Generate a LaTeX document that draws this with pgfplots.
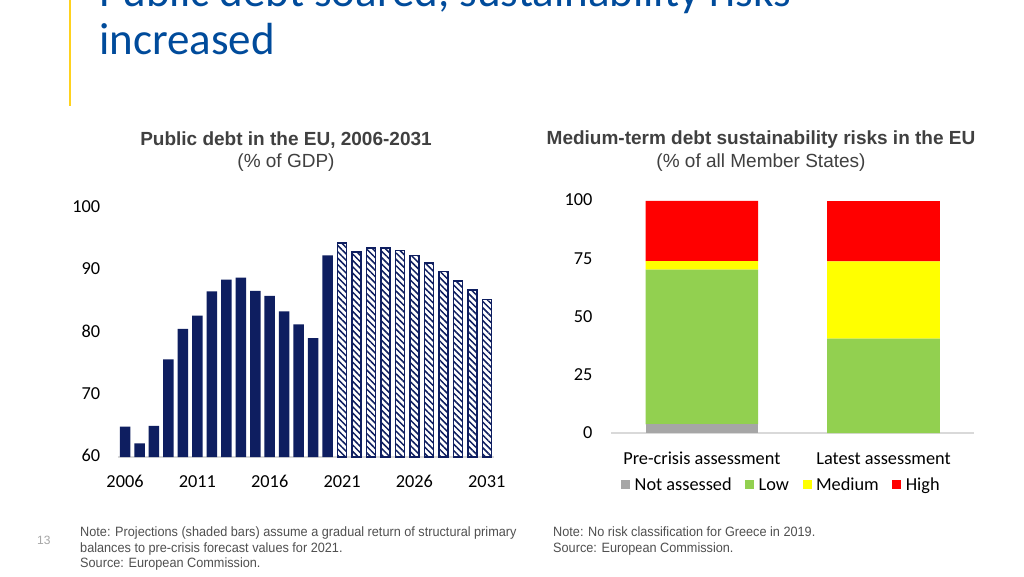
\documentclass[border=0pt]{standalone}
\usepackage{pgfplots}
\pgfplotsset{compat=1.18}
\usetikzlibrary{patterns.meta}
\usepackage{fontspec}
\setmainfont{Carlito}
\newfontfamily\arial{Liberation Sans}
\newfontfamily\notefont[FakeStretch=0.94]{Liberation Sans}

\definecolor{eublue}{RGB}{0,75,155}
\definecolor{euyellow}{RGB}{255,210,30}
\definecolor{navy}{RGB}{14,30,96}
\definecolor{axisgray}{RGB}{217,217,217}
\definecolor{titlegray}{RGB}{64,64,64}
\definecolor{notegray}{RGB}{80,80,80}
\definecolor{nagray}{RGB}{166,166,166}
\definecolor{lowgreen}{RGB}{146,208,80}
\definecolor{medyellow}{RGB}{255,255,0}
\definecolor{highred}{RGB}{255,0,0}

\begin{document}
\begin{tikzpicture}
\path[use as bounding box] (0,0) rectangle (1024pt,576pt);
\clip (0,0) rectangle (1024pt,576pt);
\fill[white] (0,0) rectangle (1024pt,576pt);

% slide header
\draw[euyellow, line width=2.5pt] (70pt,576pt) -- (70pt,470pt);
\node[anchor=base west, inner sep=0pt, text=eublue, font=\fontsize{45}{54}\selectfont] at (99pt,569pt) {Public debt soared, sustainability risks};
\node[anchor=base west, inner sep=0pt, text=eublue, font=\fontsize{45}{54}\selectfont] at (99pt,521pt) {increased};

% chart titles
\node[text=titlegray, font=\arial\bfseries\fontsize{19}{22}\selectfont] at (286pt,436pt) {Public debt in the EU, 2006-2031};
\node[text=titlegray, font=\arial\fontsize{19}{22}\selectfont] at (286pt,413pt) {(\% of GDP)};
\node[text=titlegray, font=\arial\bfseries\fontsize{19}{22}\selectfont] at (761pt,436pt) {Medium-term debt sustainability risks in the EU};
\node[text=titlegray, font=\arial\fontsize{19}{22}\selectfont] at (761pt,413pt) {(\% of all Member States)};

% left chart
\begin{axis}[
  at={(117.8pt,119pt)}, anchor=south west,
  scale only axis, width=376.2pt, height=249pt,
  xmin=2005.5, xmax=2031.5, ymin=60, ymax=100,
  axis x line=bottom, axis y line=left,
  axis line style={-},
  x axis line style={draw=axisgray, line width=1.5pt},
  y axis line style={draw=none},
  major tick length=0pt,
  xtick={2006,2011,2016,2021,2026,2031},
  ytick={60,70,80,90,100},
  /pgf/number format/assume math mode=true,
  /pgf/number format/1000 sep={},
  ticklabel style={font=\fontsize{18.3}{22}\selectfont, text=black, text height=12pt, text depth=0pt},
  yticklabel style={xshift=-14pt, yshift=1.5pt},
  xticklabel style={yshift=-15pt},
]
\addplot[ybar, bar width=10.5pt, bar shift=0pt, fill=navy, draw=none]
  coordinates {
    (2006,64.9)(2007,62.2)(2008,65.0)(2009,75.7)(2010,80.6)
    (2011,82.7)(2012,86.6)(2013,88.5)(2014,88.8)(2015,86.7)
    (2016,85.9)(2017,83.4)(2018,81.3)(2019,79.1)(2020,92.4)
  };
\addplot[ybar, bar width=9pt, bar shift=0pt, draw=navy, line width=1.5pt, fill=white,
  postaction={pattern={Lines[angle=-45,distance=4.5pt,line width=1.5pt]}, pattern color=navy}]
  coordinates {
    (2021,94.4)(2022,92.9)(2023,93.6)(2024,93.6)(2025,93.2)(2026,92.4)
    (2027,91.2)(2028,89.8)(2029,88.3)(2030,86.8)(2031,85.3)
  };
\end{axis}

% right chart
\begin{axis}[
  at={(611pt,143pt)}, anchor=south west,
  scale only axis, width=363.4pt, height=232pt,
  xmin=-0.5, xmax=1.5, ymin=0, ymax=100,
  ybar stacked, bar width=112.7pt,
  axis x line=bottom, axis y line=left,
  axis line style={-},
  x axis line style={draw=axisgray, line width=1.5pt},
  y axis line style={draw=none},
  major tick length=0pt,
  xtick={0,1}, xticklabels={Pre-crisis assessment, Latest assessment},
  ytick={0,25,50,75,100},
  /pgf/number format/assume math mode=true,
  ticklabel style={font=\fontsize{18.3}{22}\selectfont, text=black, text height=12pt, text depth=0pt},
  yticklabel style={xshift=-15pt, yshift=1pt},
  xticklabel style={yshift=-16pt},
  legend columns=4,
  legend style={at={(0.5,0)}, anchor=center, xshift=-10pt, yshift=-51pt,
    draw=none, fill=none, font=\fontsize{18.3}{22}\selectfont,
    nodes={text height=12pt, text depth=0pt, inner xsep=4.5pt},
    /tikz/every even column/.append style={column sep=9pt}},
  legend image code/.code={\fill[#1, draw=none] (0pt,-4.5pt) rectangle (9pt,4.5pt);},
]
\addplot[fill=nagray, draw=none] coordinates {(0,3.7)(1,0)};
\addlegendentry{Not assessed}
\addplot[fill=lowgreen, draw=none] coordinates {(0,66.7)(1,40.7)};
\addlegendentry{Low}
\addplot[fill=medyellow, draw=none] coordinates {(0,3.7)(1,33.3)};
\addlegendentry{Medium}
\addplot[fill=highred, draw=none] coordinates {(0,25.9)(1,25.9)};
\addlegendentry{High}
\end{axis}

% footer
\node[anchor=base west, inner sep=0pt, text=nagray, font=\arial\fontsize{12}{14}\selectfont] at (37pt,32pt) {13};
\node[anchor=north west, inner sep=0pt, align=left, text=notegray, font=\notefont\fontsize{13.5}{15.5}\selectfont] at (80pt,49pt)
  {Note: Projections (shaded bars) assume a gradual return of structural primary\\
   balances to pre-crisis forecast values for 2021.\\
   Source: European Commission.};
\node[anchor=north west, inner sep=0pt, align=left, text=notegray, font=\notefont\fontsize{13.5}{15.5}\selectfont] at (553pt,49pt)
  {Note: No risk classification for Greece in 2019.\\
   Source: European Commission.};
\end{tikzpicture}
\end{document}
